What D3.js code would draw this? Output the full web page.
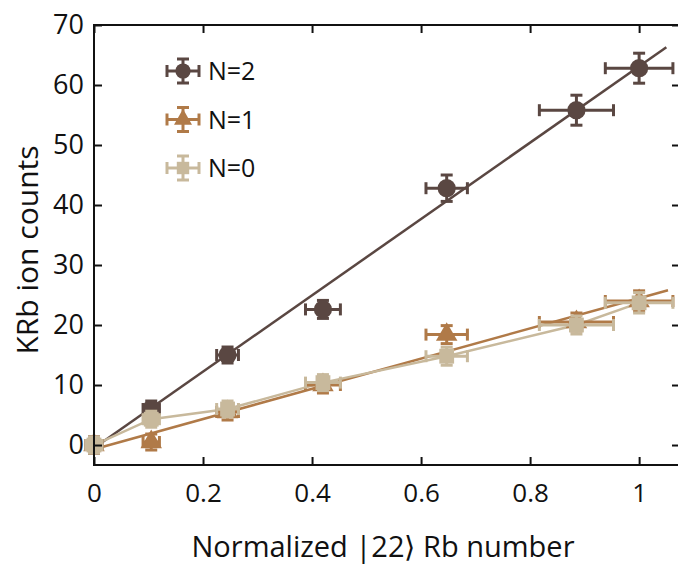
<!DOCTYPE html>
<html>
<head>
<meta charset="utf-8">
<script src="https://cdn.jsdelivr.net/npm/d3@7"></script>
<style>
body { margin: 0; background: #fff; }
text { font-family: "Open Sans", "Noto Sans", sans-serif; fill: #111; }
</style>
</head>
<body>
<script>
var width = 678;
var height = 566;

// data
var xVals = [0, 0.105, 0.245, 0.42, 0.647, 0.885, 1.0];
var xErr = [0, 0.015, 0.02, 0.032, 0.038, 0.068, 0.062];

var n2Vals = [0, 6, 15, 22.6, 42.8, 55.8, 62.8];
var n2Err = [1, 1, 1.2, 1.5, 2.2, 2.5, 2.5];
var n1Vals = [0, 0.5, 5.5, 10, 18.4, 20.5, 24];
var n1Err = [1, 1, 1, 1.2, 1.5, 1.5, 1.7];
var n0Vals = [0, 4.3, 6, 10.4, 14.8, 20, 23.7];
var n0Err = [1, 1, 1, 1.2, 1.5, 1.5, 1.7];

var n2Fit = [[0, -0.5], [1.05, 66.3]];
var n1Fit = [[0, -0.7], [1.053, 25.8]];

var xTicks = [0, 0.2, 0.4, 0.6, 0.8, 1];
var yTicks = [0, 10, 20, 30, 40, 50, 60, 70];

var series = [
    { name: "N=2", vals: n2Vals, err: n2Err, color: "#5a4742", shape: d3.symbolCircle, size: 260 },
    { name: "N=1", vals: n1Vals, err: n1Err, color: "#b07a48", shape: d3.symbolTriangle, size: 200 },
    { name: "N=0", vals: n0Vals, err: n0Err, color: "#c8b99c", shape: d3.symbolSquare, size: 220 }
];

var svg = d3.select("body")
    .append("svg")
    .attr("width", width)
    .attr("height", height);

var x = d3.scaleLinear().domain([0, 1.075]).range([94, 680]);
var y = d3.scaleLinear().domain([-3.33, 70]).range([465, 25]);

// fit lines and connecting line
var line = d3.line()
    .x(function(d) { return x(d[0]); })
    .y(function(d) { return y(d[1]); });

svg.append("path").attr("d", line(n2Fit))
    .attr("fill", "none").attr("stroke", series[0].color).attr("stroke-width", 2.5);
svg.append("path").attr("d", line(n1Fit))
    .attr("fill", "none").attr("stroke", series[1].color).attr("stroke-width", 2.5);
svg.append("path").attr("d", line(xVals.map(function(v, i) { return [v, n0Vals[i]]; })))
    .attr("fill", "none").attr("stroke", series[2].color).attr("stroke-width", 2.5);

function drawPoint(g, cx, cy, hx, hy, s, cap) {
    var lines = [
        [cx - hx, cy, cx + hx, cy],
        [cx, cy - hy, cx, cy + hy],
        [cx - hx, cy - cap, cx - hx, cy + cap],
        [cx + hx, cy - cap, cx + hx, cy + cap],
        [cx - cap, cy - hy, cx + cap, cy - hy],
        [cx - cap, cy + hy, cx + cap, cy + hy]
    ];
    lines.forEach(function(l) {
        g.append("line").attr("x1", l[0]).attr("y1", l[1]).attr("x2", l[2]).attr("y2", l[3])
            .attr("stroke", s.color).attr("stroke-width", 3);
    });
    g.append("path")
        .attr("d", d3.symbol().type(s.shape).size(s.size)())
        .attr("transform", "translate(" + cx + "," + cy + ")")
        .attr("fill", s.color);
}

series.forEach(function(s) {
    var g = svg.append("g");
    xVals.forEach(function(v, i) {
        var cx = x(v), cy = y(s.vals[i]);
        var hx = Math.max(x(v + xErr[i]) - cx, 8);
        var hy = Math.max(cy - y(s.vals[i] + s.err[i]), 8);
        drawPoint(g, cx, cy, hx, hy, s, 6);
    });
});

// legend
series.forEach(function(s, i) {
    var g = svg.append("g");
    var ly = 71 + i * 48.5;
    drawPoint(g, 183, ly, 16, 12, { color: s.color, shape: s.shape, size: s.size * 0.7 }, 6);
    g.append("text").attr("x", 208).attr("y", ly + 9)
        .attr("font-size", 25).text(s.name);
});

// frame and axes
svg.append("rect").attr("x", 94).attr("y", 25).attr("width", 586).attr("height", 440)
    .attr("fill", "none").attr("stroke", "#111").attr("stroke-width", 2);

svg.append("g").attr("transform", "translate(0,465)")
    .call(d3.axisBottom(x).tickValues(xTicks).tickSize(-8).tickPadding(19).tickFormat(d3.format("")))
    .call(function(g) { g.select(".domain").remove(); })
    .call(function(g) { g.selectAll("line").attr("stroke-width", 2).attr("stroke", "#111"); })
    .call(function(g) { g.selectAll("text").attr("font-size", 26).attr("font-family", "Open Sans").attr("fill", "#111"); });

svg.append("g").attr("transform", "translate(0,25)")
    .call(d3.axisTop(x).tickValues(xTicks).tickSize(-8).tickFormat(""))
    .call(function(g) { g.select(".domain").remove(); })
    .call(function(g) { g.selectAll("line").attr("stroke-width", 2).attr("stroke", "#111"); });

svg.append("g").attr("transform", "translate(94,0)")
    .call(d3.axisLeft(y).tickValues(yTicks).tickSize(-8).tickPadding(10))
    .call(function(g) { g.select(".domain").remove(); })
    .call(function(g) { g.selectAll("line").attr("stroke-width", 2).attr("stroke", "#111"); })
    .call(function(g) { g.selectAll("text").attr("font-size", 27).attr("font-family", "Open Sans").attr("fill", "#111"); });

svg.append("g").attr("transform", "translate(680,0)")
    .call(d3.axisRight(y).tickValues(yTicks).tickSize(-8).tickFormat(""))
    .call(function(g) { g.select(".domain").remove(); })
    .call(function(g) { g.selectAll("line").attr("stroke-width", 2).attr("stroke", "#111"); });

svg.append("text")
    .attr("transform", "translate(38,250) rotate(-90)")
    .attr("text-anchor", "middle")
    .attr("font-size", 30)
    .text("KRb ion counts");

svg.append("text")
    .attr("x", 383).attr("y", 557)
    .attr("text-anchor", "middle")
    .attr("font-size", 29)
    .text("Normalized |22\u27E9 Rb number");
</script>
</body>
</html>
